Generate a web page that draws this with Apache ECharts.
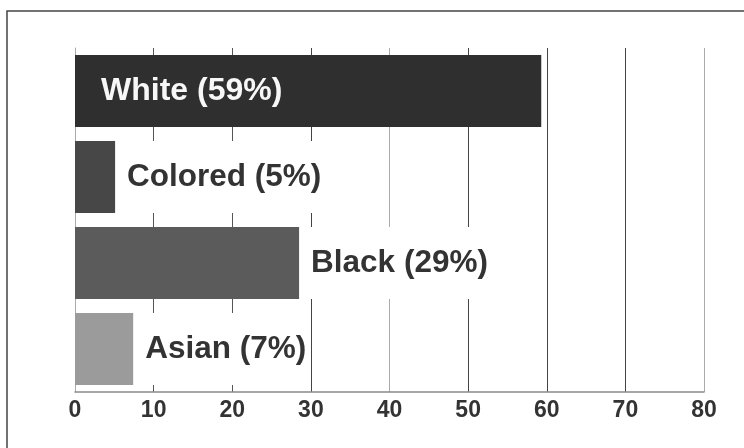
<!DOCTYPE html>
<html>
<head>
<meta charset="utf-8">
<script src="https://cdn.jsdelivr.net/npm/echarts@6/dist/echarts.min.js"></script>
<style>
html,body{margin:0;padding:0;background:#fff;}
#c{width:744px;height:448px;}
</style>
</head>
<body>
<div id="c"></div>
<script>
// Data
const categories = ['White', 'Colored', 'Black', 'Asian'];
const values = [59.3, 5.1, 28.5, 7.4];
const percentLabels = ['59%', '5%', '29%', '7%'];
const barColors = ['#2f2f2f', '#474747', '#5b5b5b', '#9b9b9b'];
const xTicks = [0, 10, 20, 30, 40, 50, 60, 70, 80];

const FONT = '"Liberation Sans", Arial, sans-serif';
const chart = echarts.init(document.getElementById('c'), null, {renderer: 'canvas'});

const data = values.map((v, i) => {
  const inside = i === 0;
  return {
    value: v,
    itemStyle: {color: barColors[i]},
    label: inside ? {
      show: true, position: 'insideLeft', distance: 26,
      color: '#f7f7f7', fontSize: 32, fontWeight: 'bold', fontFamily: FONT,
      formatter: categories[i] + ' (' + percentLabels[i] + ')'
    } : {
      show: true, position: 'right', distance: 10,
      color: '#333', fontSize: 31.5, fontWeight: 'bold', fontFamily: FONT,
      backgroundColor: '#ffffff', padding: [20, 2], lineHeight: 32,
      formatter: categories[i] + ' (' + percentLabels[i] + ')'
    }
  };
});

chart.setOption({
  animation: false,
  backgroundColor: '#ffffff',
  grid: {left: 75, right: 40, top: 48, bottom: 56, containLabel: false},
  xAxis: {
    type: 'value', min: xTicks[0], max: xTicks[xTicks.length - 1], interval: 10,
    axisLine: {show: true, lineStyle: {color: '#8a8a8a', width: 1.5}},
    axisTick: {show: false},
    axisLabel: {color: '#333', fontSize: 23, fontWeight: 'bold', fontFamily: FONT, margin: 7},
    splitLine: {show: true, lineStyle: {color: ['#999', '#555', '#555', '#444', '#aaa', '#444', '#444', '#444', '#aaa'], width: 1}}
  },
  yAxis: {
    type: 'category', data: categories, inverse: true,
    axisLine: {show: true, lineStyle: {color: '#aaa', width: 1}},
    axisTick: {show: false},
    axisLabel: {show: false}
  },
  series: [{
    type: 'bar',
    data: data,
    barCategoryGap: '16%',
    z: 3
  }],
  graphic: [{
    type: 'rect', z: 100, silent: true,
    shape: {x: 7, y: 11, width: 800, height: 500},
    style: {fill: 'none', stroke: '#444', lineWidth: 1.5}
  }]
});
</script>
</body>
</html>
